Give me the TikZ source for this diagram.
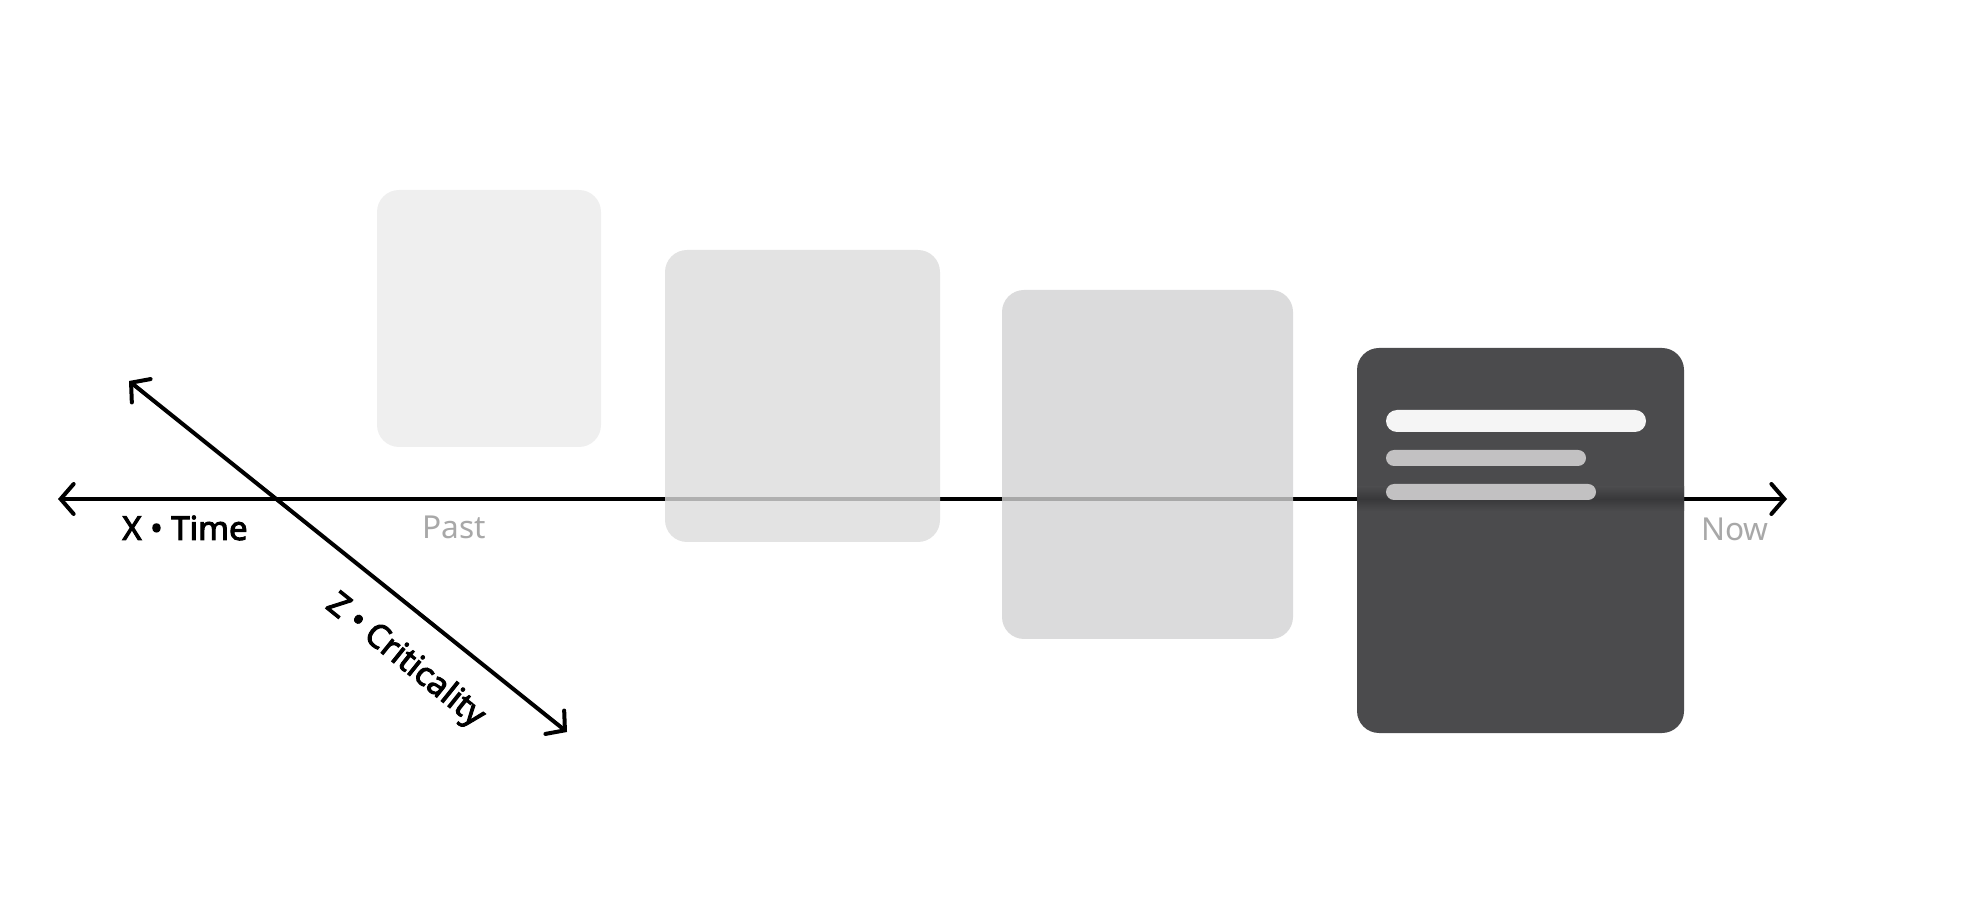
\documentclass[tikz,border=0pt]{standalone}
\usepackage{fontspec}
\setmainfont{Noto Sans}
\newfontfamily\axisfont{Noto Sans}[FakeBold=3]
\usetikzlibrary{arrows.meta}
\definecolor{cardone}{HTML}{EFEFEF}
\definecolor{cardtwo}{HTML}{DCDCDC}
\definecolor{cardthree}{HTML}{D2D2D3}
\definecolor{cardnow}{HTML}{4B4B4D}
\definecolor{cardband}{HTML}{38383A}
\definecolor{barhead}{HTML}{F5F5F5}
\definecolor{barline}{HTML}{C2C1C2}
\definecolor{faded}{HTML}{A8A8A8}
\tikzset{
	barb/.tip={Straight Barb[length=0.13cm, width=0.3cm, line cap=round]},
	axis/.style={line width=0.04cm, barb-barb, line cap=round},
	card/.style={rounded corners=0.22cm},
	bar/.style={rounded corners=#1cm},
	axislabel/.style={font=\axisfont\fontsize{9.4}{11}\selectfont, text=black, inner sep=0pt},
	endlabel/.style={font=\fontsize{9}{11}\selectfont, text=faded, inner sep=0pt, anchor=base},
}

\begin{document}
\begin{tikzpicture}
			%%%%% START %%%%%
			\useasboundingbox (0, 0) rectangle (19.70, 8.98);
			
			\coordinate (pastend) at (0.58, 3.99);
			\coordinate (nowend) at (17.87, 3.99);
			\coordinate (zback) at (1.29, 5.17);
			\coordinate (zfront) at (5.67, 1.66);
			
			% time axis, both ways
			\draw[axis] (pastend) -- (nowend);
			
			% criticality axis
			\draw[axis] (zback) -- (zfront);
			
			\node[axislabel, anchor=base] (timelabel) at (1.85, 3.58) {X • Time};
			\node[axislabel, rotate=-38.7] (zlabel) at (4.05, 2.37) {Z • Criticality};
			\node[endlabel] (past) at (4.54, 3.59) {Past};
			\node[endlabel] (now) at (17.35, 3.57) {Now};
			
			% cards, oldest first
			\fill[card, cardone] (3.77, 4.51) rectangle (6.01, 7.08);
			\fill[card, cardtwo, fill opacity=0.8] (6.65, 3.56) rectangle (9.40, 6.48);
			\fill[card, cardthree, fill opacity=0.8] (10.02, 2.59) rectangle (12.93, 6.08);
			\fill[card, cardnow] (13.57, 1.65) rectangle (16.84, 5.50);
			\shade[top color=cardnow, bottom color=cardnow, middle color=cardband] (13.57, 3.87) rectangle (16.84, 4.11);
			
			\fill[bar=0.11, barhead] (13.86, 4.66) rectangle (16.46, 4.88);
			\fill[bar=0.08, barline] (13.86, 4.32) rectangle (15.86, 4.48);
			\fill[bar=0.08, barline] (13.86, 3.98) rectangle (15.96, 4.14);
			
			%%%%% END %%%%%
		\end{tikzpicture}
\end{document}
